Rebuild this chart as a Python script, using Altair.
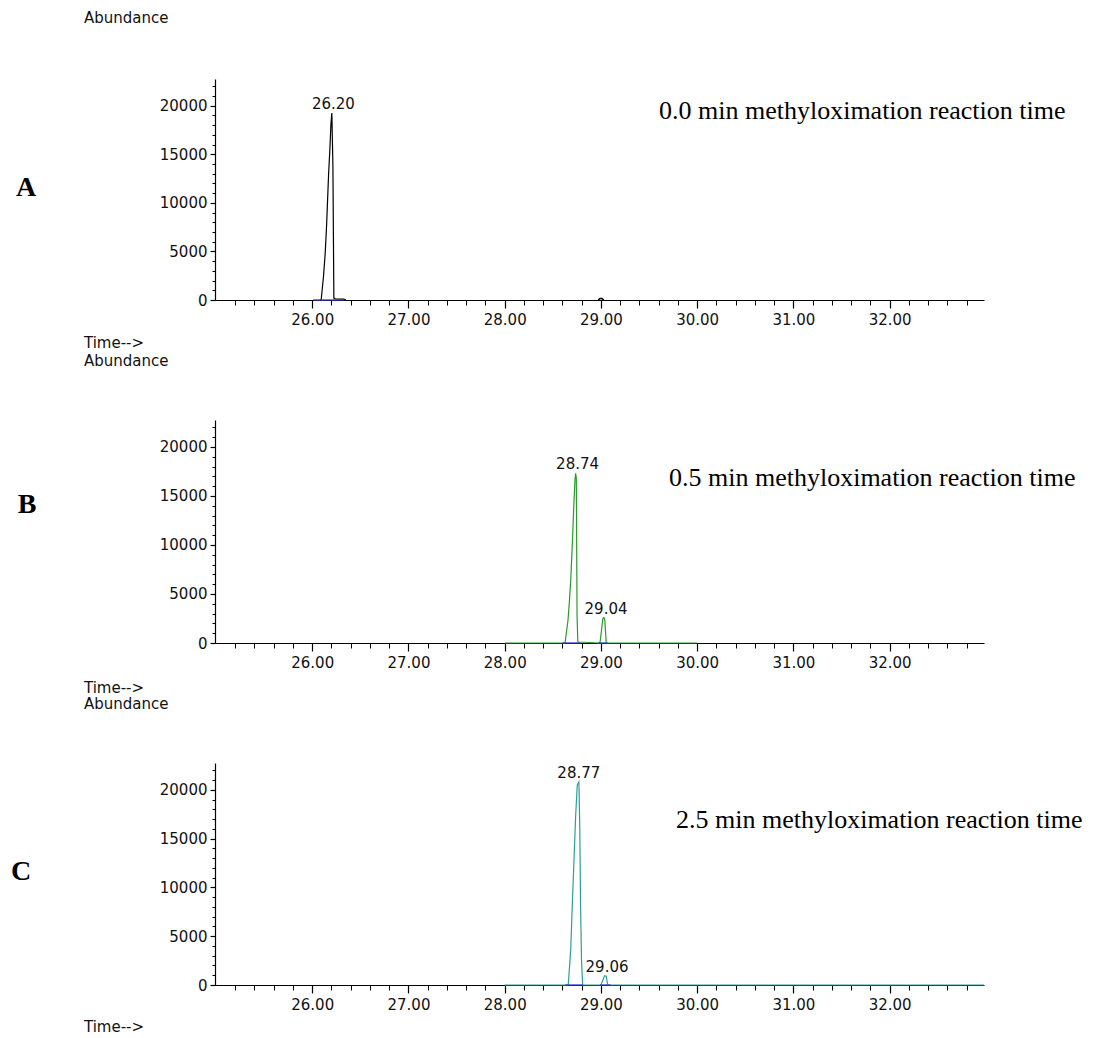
import altair as alt
import pandas as pd

# ---------------- data ----------------
X_DOMAIN = [24.99, 32.98]
Y_DOMAIN = [0, 22750]

major_x = [26, 27, 28, 29, 30, 31, 32]
minor_x = [25.2, 25.4, 25.6, 25.8, 26.2, 26.4, 26.6, 26.8, 27.2, 27.4, 27.6, 27.8,
           28.2, 28.4, 28.6, 28.8, 29.2, 29.4, 29.6, 29.8, 30.2, 30.4, 30.6, 30.8,
           31.2, 31.4, 31.6, 31.8, 32.2, 32.4, 32.6, 32.8]
major_y = [0, 5000, 10000, 15000, 20000]
minor_y = [0, 1000, 2000, 3000, 4000, 5000, 6000, 7000, 8000, 9000, 10000, 11000,
           12000, 13000, 14000, 15000, 16000, 17000, 18000, 19000, 20000, 21000, 22000]

# Panel A (0.0 min)
A_time = [26.08, 26.093, 26.117, 26.135, 26.149, 26.159, 26.170, 26.184, 26.194, 26.204,
          26.215, 26.225, 26.24, 26.30, 26.33, 26.35]
A_abund = [0, 0, 2400, 4800, 7600, 10100, 12900, 15600, 18000, 19250,
           13900, 200, 120, 100, 100, 0]
A2_time = [28.97, 28.99, 29.01, 29.03]
A2_abund = [0, 150, 150, 0]
A_base_start = [26.01]
A_base_end = [26.33]
A_lab_text = ["26.20"]
A_lab_time = [26.22]
A_lab_abund = [19250]

# Panel B (0.5 min)
B_time = [28.00, 28.62, 28.627, 28.658, 28.672, 28.686, 28.706, 28.716, 28.730, 28.737,
          28.744, 28.752, 28.76, 28.98, 28.99, 29.02, 29.03, 29.04, 29.055, 29.07, 30.00]
B_abund = [0, 0, 0, 2350, 4200, 6400, 10850, 13570, 16630, 17300,
           16800, 2700, 100, 0, 0, 2500, 2600, 2350, 0, 0, 0]
B_base_start = [28.60, 28.97]
B_base_end = [28.79, 29.07]
B_lab_text = ["28.74", "29.04"]
B_lab_time = [28.757, 29.053]
B_lab_abund = [17300, 2600]

# Panel C (2.5 min)
C_time = [28.00, 28.66, 28.686, 28.703, 28.72, 28.737, 28.754, 28.771, 28.78, 28.788,
          28.798, 28.81, 29.00, 29.038, 29.055, 29.07, 32.98]
C_abund = [0, 0, 3600, 8400, 12800, 17300, 20500, 20800, 16200, 8400,
           2600, 0, 0, 950, 900, 0, 0]
C_base_start = [28.63, 28.99]
C_base_end = [28.81, 29.10]
C_lab_text = ["28.77", "29.06"]
C_lab_time = [28.77, 29.063]
C_lab_abund = [20800, 950]

notes = ["0.0 min methyloximation reaction time",
         "0.5 min methyloximation reaction time",
         "2.5 min methyloximation reaction time"]
letters = ["A", "B", "C"]

SANS = "DejaVu Sans"
SERIF = "Liberation Serif"
W = 769
FS = 15


def panel(time, abund, color, extra, base_s, base_e, lab_text, lab_time, lab_abund,
          note, note_xy, letter, letter_xy, abund_y, time_y, height):
    xs = alt.Scale(domain=X_DOMAIN, nice=False, zero=False)
    ys = alt.Scale(domain=Y_DOMAIN, nice=False, zero=False)
    df = pd.DataFrame({"time": time, "abund": abund})

    main = alt.Chart(df).mark_line(color=color, strokeWidth=1.2).encode(
        x=alt.X("time:Q", scale=xs,
                axis=alt.Axis(values=major_x, format=".2f", tickSize=8, labelPadding=4,
                              orient="bottom", title=None, labelFontSize=FS,
                              labelFont=SANS, domainColor="#000", tickColor="#000",
                              labelColor="#111", domainWidth=1.2, tickWidth=1.2,
                              labelFlush=False, labelOverlap=False)),
        y=alt.Y("abund:Q", scale=ys,
                axis=alt.Axis(values=major_y, format="d", tickSize=5, labelPadding=3,
                              orient="left", title=None, labelFontSize=FS, labelFont=SANS,
                              domainColor="#000", tickColor="#000", labelColor="#111",
                              domainWidth=1.2, tickWidth=1.2, labelFlush=False,
                              labelOverlap=False)),
    )
    minor = alt.Chart(df).mark_line(opacity=0).encode(
        x=alt.X("time:Q", scale=xs,
                axis=alt.Axis(values=minor_x, labels=False, tickSize=5, domain=False,
                              orient="bottom", title=None, tickColor="#000")),
        y=alt.Y("abund:Q", scale=ys,
                axis=alt.Axis(values=minor_y, labels=False, tickSize=3, domain=False,
                              orient="left", title=None, tickColor="#000")),
    )
    layers = [main, minor]
    if extra is not None:
        edf = pd.DataFrame({"time": extra[0], "abund": extra[1]})
        layers.append(alt.Chart(edf).mark_line(color=color, strokeWidth=1.5).encode(
            x=alt.X("time:Q", scale=xs, axis=None),
            y=alt.Y("abund:Q", scale=ys, axis=None)))
    bdf = pd.DataFrame({"x0": base_s, "x1": base_e, "y": [0] * len(base_s)})
    layers.append(alt.Chart(bdf).mark_rule(color="#3535c8", strokeWidth=1.3).encode(
        x=alt.X("x0:Q", scale=xs, axis=None), x2="x1:Q",
        y=alt.Y("y:Q", scale=ys, axis=None)))
    ldf = pd.DataFrame({"t": lab_time, "v": lab_abund, "s": lab_text})
    layers.append(alt.Chart(ldf).mark_text(font=SANS, fontSize=FS, baseline="alphabetic",
                                           dy=-4, color="#111").encode(
        x=alt.X("t:Q", scale=xs, axis=None),
        y=alt.Y("v:Q", scale=ys, axis=None), text="s:N"))
    ndf = pd.DataFrame({"s": [note]})
    layers.append(alt.Chart(ndf).mark_text(font=SERIF, fontSize=26, align="left",
                                           baseline="alphabetic", color="#000").encode(
        x=alt.value(note_xy[0]), y=alt.value(note_xy[1]), text="s:N"))
    lt = pd.DataFrame({"s": [letter]})
    layers.append(alt.Chart(lt).mark_text(font=SERIF, fontSize=28, fontWeight="bold",
                                          align="center", baseline="middle",
                                          color="#000").encode(
        x=alt.value(letter_xy[0]), y=alt.value(letter_xy[1]), text="s:N"))
    ab = pd.DataFrame({"s": ["Abundance"]})
    layers.append(alt.Chart(ab).mark_text(font=SANS, fontSize=FS, align="left",
                                          baseline="middle", color="#111").encode(
        x=alt.value(-131), y=alt.value(abund_y), text="s:N"))
    tm = pd.DataFrame({"s": ["Time-->"]})
    layers.append(alt.Chart(tm).mark_text(font=SANS, fontSize=FS, align="left",
                                          baseline="middle", color="#111").encode(
        x=alt.value(-131), y=alt.value(time_y), text="s:N"))

    return alt.layer(*layers).resolve_axis(x="independent", y="independent").properties(
        width=W, height=height)


pA = panel(A_time, A_abund, "#000000", (A2_time, A2_abund), A_base_start, A_base_end,
           A_lab_text, A_lab_time, A_lab_abund, notes[0], (444, 40), letters[0],
           (-189, 109), -61, 221 + 43, 221)
pB = panel(B_time, B_abund, "#2a9a2a", None, B_base_start, B_base_end,
           B_lab_text, B_lab_time, B_lab_abund, notes[1], (454, 66), letters[1],
           (-188, 85), -59, 223 + 45, 223)
pC = panel(C_time, C_abund, "#2f9e98", None, C_base_start, C_base_end,
           C_lab_text, C_lab_time, C_lab_abund, notes[2], (461, 65), letters[2],
           (-194, 109), -59, 222 + 42, 222)

chart = alt.vconcat(pA, pB, pC, spacing=120, bounds="flush").properties(
    padding={"left": 2, "top": 3, "right": 0, "bottom": 0}
).configure_view(stroke=None).configure_axis(grid=False)

chart.save("out.html", embed_options={"renderer": "svg", "actions": False})
